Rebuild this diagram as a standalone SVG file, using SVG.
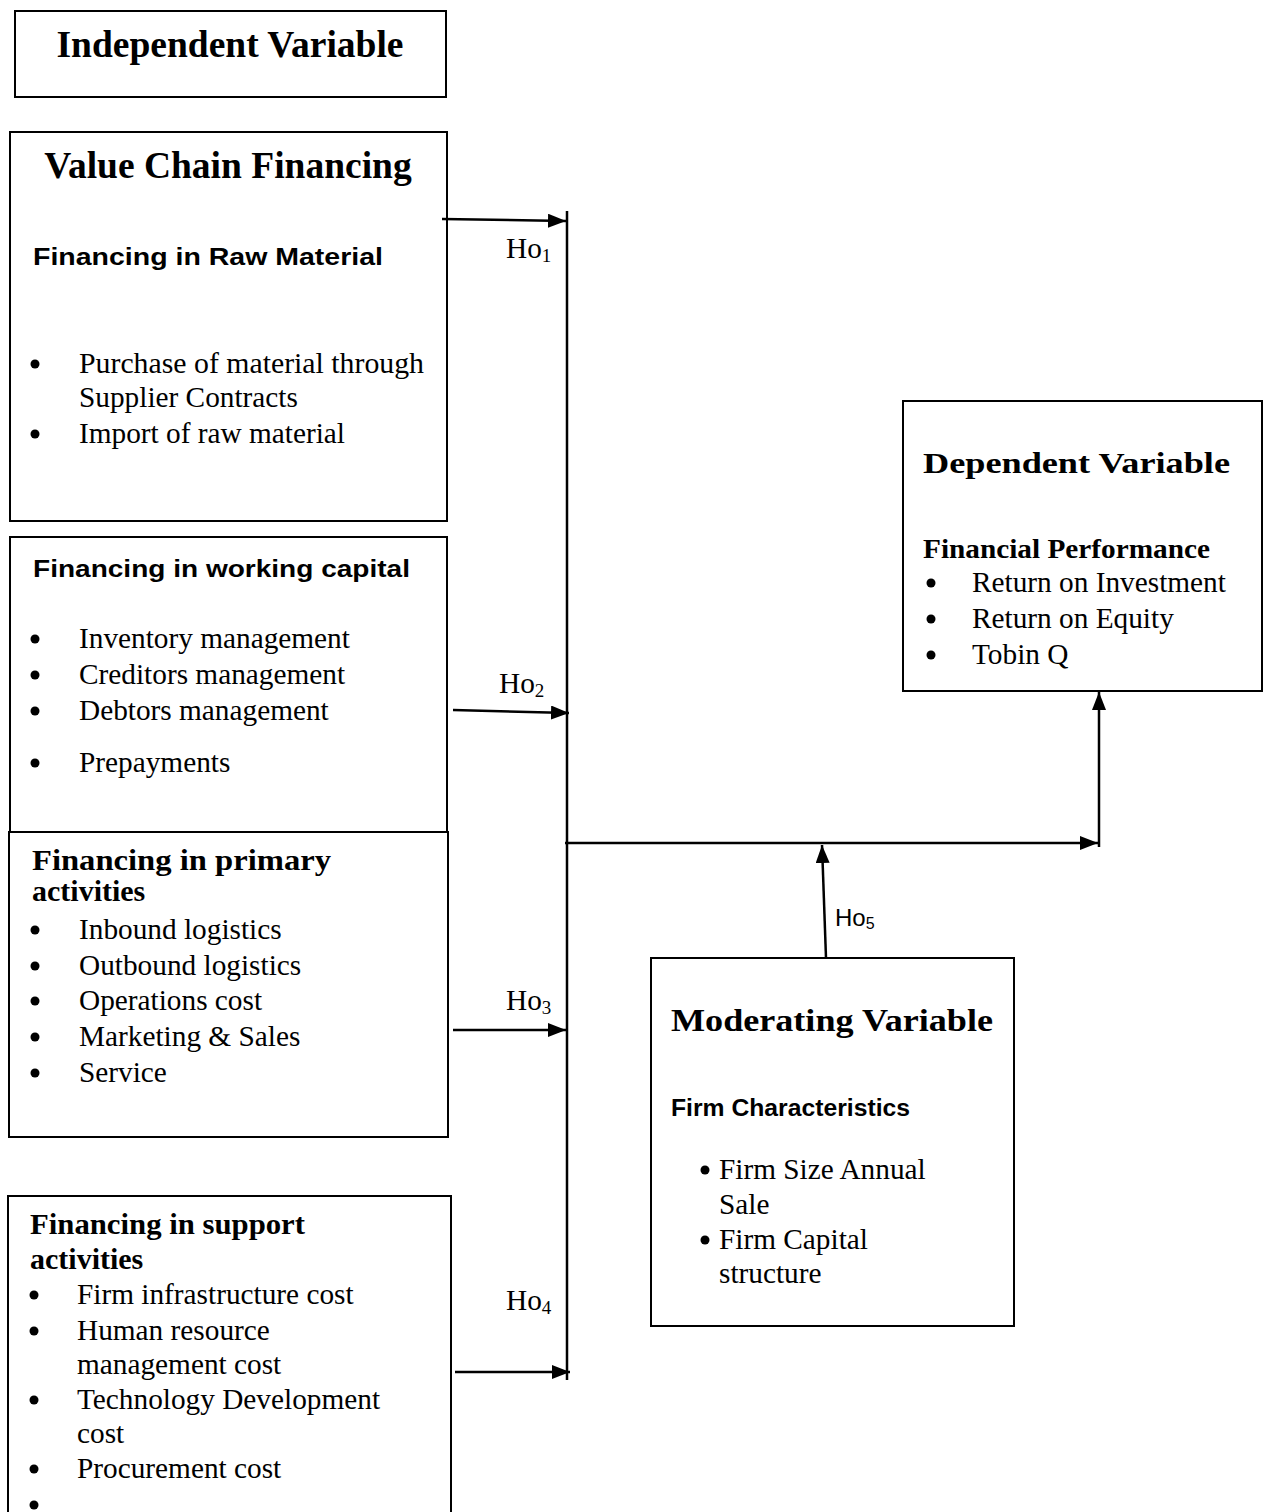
<svg xmlns="http://www.w3.org/2000/svg" width="1270" height="1512" viewBox="0 0 1270 1512">
<style>
.box{fill:#fff;stroke:#000;stroke-width:2}
.t{font-family:"Liberation Serif","Times New Roman",serif;font-size:29.3px;fill:#000}
.tb{font-family:"Liberation Serif","Times New Roman",serif;font-weight:bold;fill:#000}
.sb{font-family:"Liberation Sans",Arial,sans-serif;font-weight:bold;font-size:23px;fill:#000}
.s{font-family:"Liberation Sans",Arial,sans-serif;font-size:24px;fill:#000}
.ln{stroke:#000;stroke-width:2.5;fill:none}
.sub{font-size:19px}
.b{fill:#000}
</style>
<defs>
<marker id="ahl" markerWidth="18" markerHeight="14" refX="18" refY="7" orient="auto" markerUnits="userSpaceOnUse" viewBox="0 0 18 14">
<path d="M0,0 L18,7 L0,14 Z" fill="#000"/>
</marker>
</defs>

<g id="independent-label">
<rect class="box" x="15" y="11" width="431" height="86"/>
<text class="tb" x="230" y="57" font-size="37.5" text-anchor="middle">Independent Variable</text>
</g>

<g id="raw-material">
<rect class="box" x="10" y="132" width="437" height="389"/>
<text class="tb" x="228" y="178" font-size="37.5" text-anchor="middle">Value Chain Financing</text>
<text class="sb" x="33" y="265" textLength="350" lengthAdjust="spacingAndGlyphs">Financing in Raw Material</text>
<circle class="b" cx="35" cy="364" r="4.5"/>
<text class="t" x="79" y="373" textLength="345" lengthAdjust="spacingAndGlyphs">Purchase of material through</text>
<text class="t" x="79" y="407">Supplier Contracts</text>
<circle class="b" cx="35" cy="434" r="4.5"/>
<text class="t" x="79" y="443">Import of raw material</text>
</g>

<g id="working-capital">
<rect class="box" x="10" y="537" width="437" height="295"/>
<text class="sb" x="33" y="577" textLength="377" lengthAdjust="spacingAndGlyphs">Financing in working capital</text>
<circle class="b" cx="35" cy="639" r="4.5"/>
<text class="t" x="79" y="648">Inventory management</text>
<circle class="b" cx="35" cy="675" r="4.5"/>
<text class="t" x="79" y="684">Creditors management</text>
<circle class="b" cx="35" cy="711" r="4.5"/>
<text class="t" x="79" y="720">Debtors management</text>
<circle class="b" cx="35" cy="763" r="4.5"/>
<text class="t" x="79" y="772">Prepayments</text>
</g>

<g id="primary-activities">
<rect class="box" x="9" y="832" width="439" height="305"/>
<text class="tb" x="32" y="870" font-size="30" textLength="299" lengthAdjust="spacingAndGlyphs">Financing in primary</text>
<text class="tb" x="32" y="901" font-size="30">activities</text>
<circle class="b" cx="35" cy="930" r="4.5"/>
<text class="t" x="79" y="939">Inbound logistics</text>
<circle class="b" cx="35" cy="966" r="4.5"/>
<text class="t" x="79" y="975">Outbound logistics</text>
<circle class="b" cx="35" cy="1001" r="4.5"/>
<text class="t" x="79" y="1010">Operations cost</text>
<circle class="b" cx="35" cy="1037" r="4.5"/>
<text class="t" x="79" y="1046">Marketing &amp; Sales</text>
<circle class="b" cx="35" cy="1073" r="4.5"/>
<text class="t" x="79" y="1082">Service</text>
</g>

<g id="support-activities">
<path class="box" d="M8,1514 L8,1196 L451,1196 L451,1514"/>
<text class="tb" x="30" y="1234" font-size="30" textLength="275" lengthAdjust="spacingAndGlyphs">Financing in support</text>
<text class="tb" x="30" y="1269" font-size="30">activities</text>
<circle class="b" cx="34" cy="1295" r="4.5"/>
<text class="t" x="77" y="1304">Firm infrastructure cost</text>
<circle class="b" cx="34" cy="1331" r="4.5"/>
<text class="t" x="77" y="1340">Human resource</text>
<text class="t" x="77" y="1374">management cost</text>
<circle class="b" cx="34" cy="1400" r="4.5"/>
<text class="t" x="77" y="1409">Technology Development</text>
<text class="t" x="77" y="1443">cost</text>
<circle class="b" cx="34" cy="1469" r="4.5"/>
<text class="t" x="77" y="1478">Procurement cost</text>
<circle class="b" cx="34" cy="1505" r="4.5"/>
</g>

<g id="dependent-variable">
<rect class="box" x="903" y="401" width="359" height="290"/>
<text class="tb" x="923" y="473" font-size="30" textLength="307" lengthAdjust="spacingAndGlyphs">Dependent Variable</text>
<text class="tb" x="923" y="558" font-size="28" textLength="287" lengthAdjust="spacingAndGlyphs">Financial Performance</text>
<circle class="b" cx="931" cy="583" r="4.5"/>
<text class="t" x="972" y="592">Return on Investment</text>
<circle class="b" cx="931" cy="619" r="4.5"/>
<text class="t" x="972" y="628">Return on Equity</text>
<circle class="b" cx="931" cy="655" r="4.5"/>
<text class="t" x="972" y="664">Tobin Q</text>
</g>

<g id="moderating-variable">
<rect class="box" x="651" y="958" width="363" height="368"/>
<text class="tb" x="671" y="1031" font-size="32" textLength="322" lengthAdjust="spacingAndGlyphs">Moderating Variable</text>
<text class="sb" x="671" y="1116" textLength="239" lengthAdjust="spacingAndGlyphs">Firm Characteristics</text>
<circle class="b" cx="705" cy="1170" r="4.5"/>
<text class="t" x="719" y="1179">Firm Size Annual</text>
<text class="t" x="719" y="1214">Sale</text>
<circle class="b" cx="705" cy="1240" r="4.5"/>
<text class="t" x="719" y="1249">Firm Capital</text>
<text class="t" x="719" y="1283">structure</text>
</g>

<g id="connectors">
<line class="ln" x1="567" y1="211" x2="567" y2="1380"/>
<line class="ln" x1="442" y1="219" x2="566" y2="221" marker-end="url(#ahl)"/>
<line class="ln" x1="453" y1="710" x2="569" y2="713" marker-end="url(#ahl)"/>
<line class="ln" x1="453" y1="1030" x2="566" y2="1030" marker-end="url(#ahl)"/>
<line class="ln" x1="455" y1="1372" x2="570" y2="1372" marker-end="url(#ahl)"/>
<line class="ln" x1="565" y1="843" x2="1098" y2="843" marker-end="url(#ahl)"/>
<line class="ln" x1="826" y1="958" x2="822" y2="845" marker-end="url(#ahl)"/>
<line class="ln" x1="1099" y1="847" x2="1099" y2="692" marker-end="url(#ahl)"/>
<text class="t" x="506" y="258">Ho<tspan class="sub" dy="4">1</tspan></text>
<text class="t" x="499" y="693">Ho<tspan class="sub" dy="4">2</tspan></text>
<text class="t" x="506" y="1010">Ho<tspan class="sub" dy="4">3</tspan></text>
<text class="t" x="506" y="1310">Ho<tspan class="sub" dy="4">4</tspan></text>
<text class="s" x="835" y="926">Ho<tspan font-size="16" dy="3">5</tspan></text>
</g>
</svg>
